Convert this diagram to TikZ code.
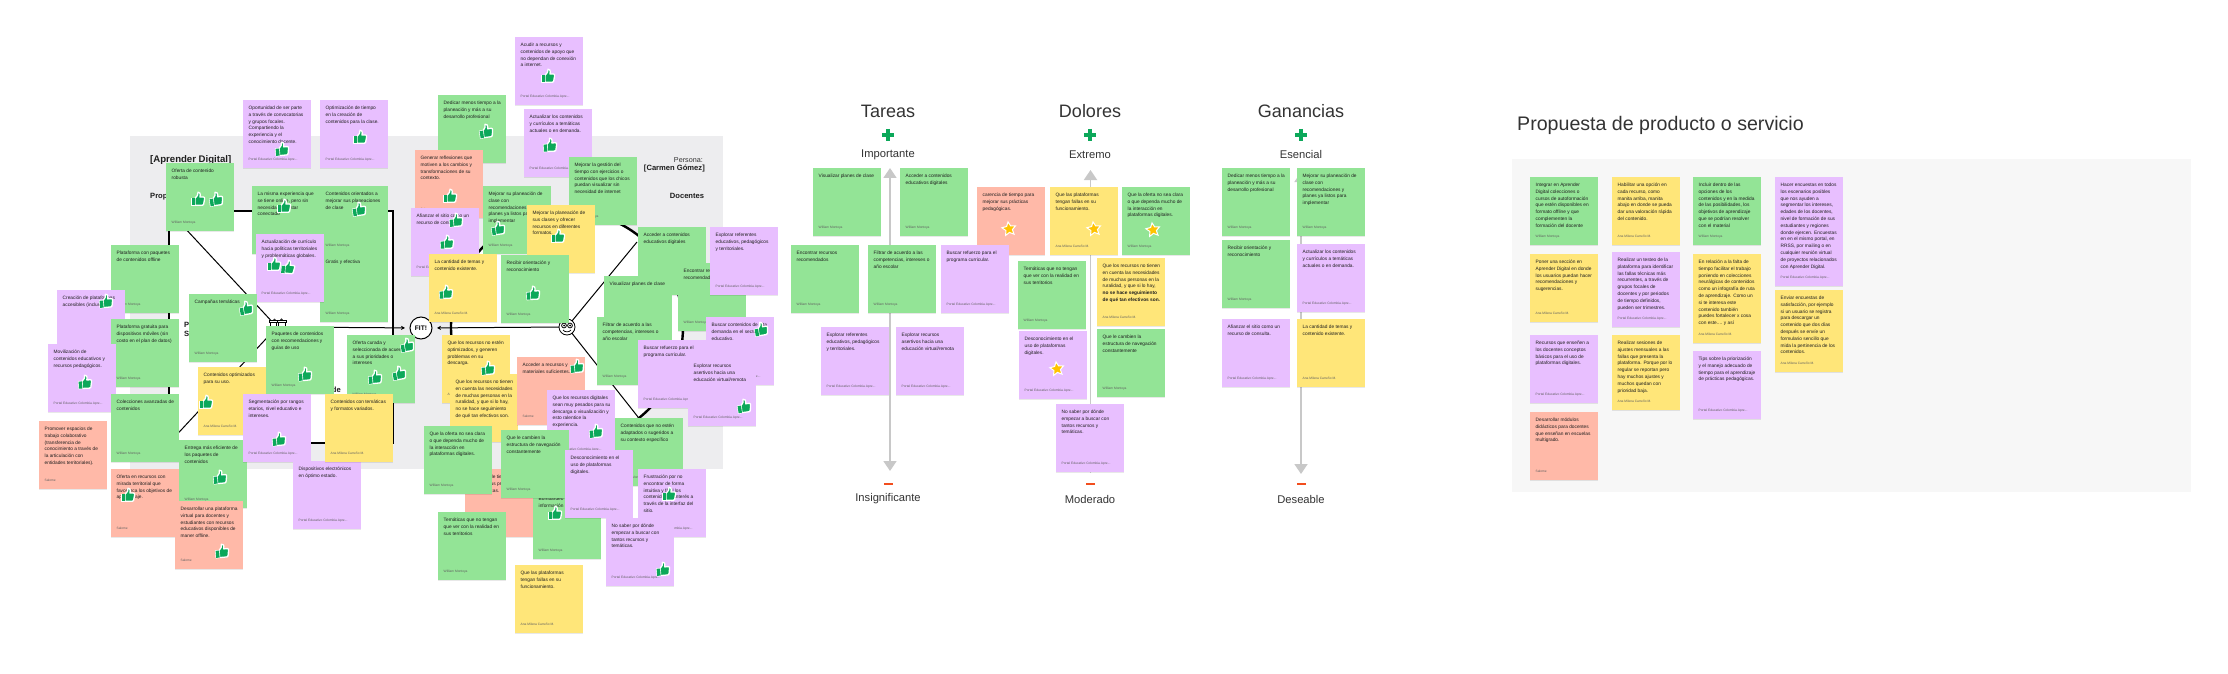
\documentclass[tikz,border=0pt]{standalone}
\usepackage{fontspec}
\setmainfont{Liberation Sans}
\usetikzlibrary{arrows.meta,shadows,shapes.geometric}
\definecolor{ng}{HTML}{93E496}
\definecolor{np}{HTML}{E8BFFF}
\definecolor{ny}{HTML}{FFE679}
\definecolor{nr}{HTML}{FFB9A8}
\definecolor{thumbc}{HTML}{0CA85A}
\definecolor{panel}{HTML}{EDEDEF}
\definecolor{panellight}{HTML}{F7F7F7}
\definecolor{arrowg}{HTML}{C8C8C8}
\definecolor{minusc}{HTML}{F24E1E}
\definecolor{ink}{HTML}{1E1E1E}
\definecolor{head}{HTML}{333333}
\definecolor{starc}{HTML}{FFC300}
\newcounter{ntc}
\newcounter{mkc}
\tikzset{
 notebox/.style={draw=none,minimum width=68pt,inner sep=0pt,outer sep=0pt,
   drop shadow={shadow xshift=0pt,shadow yshift=-0.8pt,opacity=.09,fill=black}},
 notetext/.style={anchor=north west,inner sep=0pt,outer sep=0pt,align=left,text=ink,
   font=\fontsize{4.8}{6.8}\selectfont},
 noteauth/.style={anchor=west,inner sep=0pt,outer sep=0pt,text=ink!70,
   font=\fontsize{3.25}{4}\selectfont},
 thick line/.style={line width=2.4pt,black},
 thin line/.style={line width=1pt,black},
 thin arrow/.style={line width=1pt,black,-{Stealth[length=4pt,width=4pt]},shorten >=4.5pt},
 grayarrow/.style={line width=1.8pt,arrowg,{Triangle[width=13pt,length=10pt]}-{Triangle[width=13pt,length=10pt]}},
 plusmark/.style={line width=3.4pt,thumbc},
 minusmark/.style={line width=1.8pt,minusc},
 headline/.style={text=head,font=\fontsize{18}{20}\selectfont,inner sep=0pt},
 subhead/.style={text=head,font=\fontsize{11.2}{13}\selectfont,inner sep=0pt},
 canvaslabel/.style={text=ink,font=\fontsize{7.6}{9.2}\selectfont\bfseries,inner sep=0pt,align=left},
 starmark/.style={star,star points=5,star point ratio=2.1,minimum size=14.5pt,inner sep=0pt,
   fill=starc,draw=white,line width=1pt,rotate=8},
 fitnode/.style={circle,draw=black,line width=1pt,fill=white,minimum size=22pt,inner sep=0pt,
   font=\fontsize{6.6}{8}\selectfont\bfseries}
}
% \nt{x}{y}{h}{colour}{text}{author}
\newcommand{\nt}[6]{%
 \stepcounter{ntc}\edef\nn{n\arabic{ntc}}%
 \node[notebox,fill=#4,minimum height=#3pt,anchor=north west] (\nn) at (#1,#2) {};%
 \node[notetext] (\nn t) at ([xshift=5.7pt,yshift=-6pt]\nn.north west) {#5};%
 \node[noteauth] (\nn a) at ([xshift=5.7pt,yshift=8.2pt]\nn.south west) {#6};%
}
\newcommand{\aW}{William Montoya}
\newcommand{\aA}{Ana Milena Carreño M.}
\newcommand{\aP}{Portal Educativo Colombia Apre...}
\newcommand{\aS}{Salome}
\newcommand{\thumbm}[3]{%
 \begin{scope}[shift={(#1,#2)},rotate=#3,scale=1.22]
  \path[fill=thumbc,draw=white,line width=1.3pt,line join=round]
   (-5.2,-0.6) -- (-3.3,-0.6) -- (-3.3,5.2) -- (-5.2,5.2) -- cycle;
  \path[fill=thumbc,draw=white,line width=1.3pt,line join=round]
   (-2.4,-0.6) -- (-0.4,-3) -- (0,-5.6) .. controls (1.6,-6) and (2.2,-4.4) .. (1.6,-1.6)
   -- (4.6,-1.6) .. controls (5.4,-1.6) and (5.6,-0.8) .. (5.4,0) -- (4.6,4.4) .. controls (4.5,5) and (4.2,5.2) .. (3.6,5.2)
   -- (-2.4,5.2) -- cycle;
  \path[fill=thumbc]
   (-5.2,-0.6) -- (-2.4,-0.6) -- (-2.4,5.2) -- (-5.2,5.2) -- cycle;
 \end{scope}%
}
\newcommand{\starm}[2]{\stepcounter{mkc}\node[starmark] (s\arabic{mkc}) at (#1,#2) {};}
\begin{document}
\begin{tikzpicture}[x=1pt,y=-1pt]
\useasboundingbox (0,0) rectangle (2228,674);
\fill[white] (0,0) rectangle (2228,674);

% ---------- left canvas ----------
\fill[panel] (130,136) rectangle (723,469);
\coordinate (tl) at (169,211); \coordinate (tr) at (393,211);
\coordinate (br) at (393,443); \coordinate (bl) at (169,443);
\draw[thick line,fill=white] (tl) -- (tr) -- (br) -- (bl) -- cycle;
\coordinate (cc) at (567,327);
\draw[thick line,fill=white] (cc) circle[radius=116];
\coordinate (gc) at (277,327);
\coordinate (cu) at (637,242); \coordinate (cd) at (638,417);
\draw[thin line] (tl) -- (gc);
\draw[thin line] (bl) -- (gc);
\draw[thin line] (cc) -- (cu);
\draw[thin line] (cc) -- (cd);
\node[fitnode] (fit) at (421,328) {FIT!};
\draw[thin arrow] (gc) -- (fit);
\draw[thin arrow] (cc) -- (fit);
% gifts
\node[inner sep=0pt,minimum width=16pt,minimum height=8pt] (gift) at (277,323.5) {};
\draw[line width=.7pt,fill=white] (270,322) rectangle (276.5,327.5);
\draw[line width=.7pt,fill=white] (278,322) rectangle (285,327.5);
\draw[line width=.7pt,fill=white] (269,320.5) rectangle (277,322.5);
\draw[line width=.7pt,fill=white] (277.5,320.5) rectangle (286,322.5);
\draw[line width=.6pt] (273,320.5) -- (274.5,319) -- (276,320.5);
\draw[line width=.6pt] (280,320.5) -- (281.5,318.8) -- (283,320.5);
% face
\node[circle,draw=black,line width=.8pt,fill=white,minimum size=16pt,inner sep=0pt] (face) at (567,327) {};
\draw[line width=.8pt] (564,325.5) circle[radius=2.4];
\draw[line width=.8pt] (570,325.5) circle[radius=2.4];
\fill (564,325.5) circle[radius=1]; \fill (570,325.5) circle[radius=1];
\draw[line width=.7pt] (563,330) .. controls (565,332.5) and (569,332.5) .. (571,330);

\node[canvaslabel,anchor=west,font=\fontsize{9.6}{11}\selectfont\bfseries] (titleA) at (150,160) {[Aprender Digital]};
\node[canvaslabel,anchor=west] (propv) at (150,196.5) {Propuesta de valor};
\node[canvaslabel,anchor=north west] (prods) at (184,322) {Productos y\\Servicios};
\node[canvaslabel,anchor=east] (alev) at (341,389.5) {Aliviadores de};
\node[anchor=east,inner sep=0pt,text=head,font=\fontsize{7.2}{9}\selectfont] (pers) at (703,160.5) {Persona:};
\node[canvaslabel,anchor=east] (persn) at (705,168.5) {[Carmen Gómez]};
\node[canvaslabel] (doc) at (687,196) {Docentes};

\nt{243}{100}{68}{np}{Oportunidad de ser parte\\a través de convocatorias\\y grupos focales.\\Compartiendo la\\experiencia y el\\conocimiento docente.}{\aP}
\nt{320}{100}{68}{np}{Optimización de tiempo\\en la creación de\\contenidos para la clase.}{\aP}
\nt{166}{163}{68}{ng}{Oferta de contenido\\robusta}{\aW}
\nt{252}{186}{68}{ng}{La misma experiencia que\\se tiene online, pero sin\\necesidad de estar\\conectado}{\aW}
\nt{320}{186}{68}{ng}{Contenidos orientados a\\mejorar sus planeaciones\\de clase}{\aW}
\nt{320}{254}{68}{ng}{Gratis y efectiva}{\aW}
\nt{256}{234}{68}{np}{Actualización de currículo\\hacia políticas territoriales\\y problemáticas globales.}{\aP}
\nt{111}{245}{68}{ng}{Plataforma con paquetes\\de contenidos offline}{\aW}
\nt{57}{290}{68}{np}{Creación de plataformas\\accesibles (inclusión)}{\aP}
\nt{111}{319}{68}{ng}{Plataforma gratuita para\\dispositivos móviles (sin\\costo en el plan de datos)}{\aW}
\nt{48}{344}{68}{np}{Movilización de\\contenidos educativos y\\recursos pedagógicos.}{\aP}
\nt{111}{394}{68}{ng}{Colecciones avanzadas de\\contenidos}{\aW}
\nt{39}{421}{68}{nr}{Promover espacios de\\trabajo colaborativo\\(transferencia de\\conocimiento a través de\\la articulación con\\entidades territoriales).}{\aS}
\nt{111}{469}{68}{nr}{Oferta en recursos con\\mirada territorial que\\favorezca los objetivos de\\aprendizaje.}{\aS}
\nt{179}{440}{68}{ng}{Entrega más eficiente de\\los paquetes de\\contenidos}{\aW}
\nt{175}{501}{68}{nr}{Desarrollar una plataforma\\virtual para docentes y\\estudiantes con recursos\\educativos disponibles de\\maner offline.}{\aS}
\nt{189}{294}{68}{ng}{Campañas temáticas}{\aW}
\nt{198}{367}{68}{ny}{Contenidos optimizados\\para su uso.}{\aA}
\nt{266}{326}{68}{ng}{Paquetes de contenidos\\con recomendaciones y\\guías de uso}{\aW}
\nt{243}{394}{68}{np}{Segmentación por rangos\\etarios, nivel educativo e\\intereses.}{\aP}
\nt{347}{335}{68}{ng}{Oferta curada y\\seleccionada de acuerdo\\a sus prioridades o\\intereses}{\aW}
\nt{293}{461}{68}{np}{Dispositivos electrónicos\\en óptimo estado.}{\aP}
\nt{325}{394}{68}{ny}{Contenidos con temáticas\\y formatos variados.}{\aA}

\nt{515}{37}{68}{np}{Acudir a recursos y\\contenidos de apoyo que\\no dependan de conexión\\a internet.}{\aP}
\nt{438}{95}{68}{ng}{Dedicar menos tiempo a la\\planeación y más a su\\desarrollo profesional}{\aW}
\nt{524}{109}{68}{np}{Actualizar los contenidos\\y currículos a temáticas\\actuales o en demanda.}{\aP}
\nt{415}{150}{68}{nr}{Generar reflexiones que\\motiven a los cambios y\\transformaciones de su\\contexto.}{\aS}
\nt{569}{157}{68}{ng}{Mejorar la gestión del\\tiempo con ejercicios o\\contenidos que los chicos\\puedan visualizar sin\\necesidad de internet}{\aW}
\nt{483}{186}{68}{ng}{Mejorar su planeación de\\clase con\\recomendaciones y\\planes ya listos para\\implementar}{\aW}
\nt{527}{205}{68}{ny}{Mejorar la planeación de\\sus clases y ofrecer\\recursos en diferentes\\formatos.}{\aA}
\nt{411}{208}{68}{np}{Afianzar el sitio como un\\recurso de consulta.}{\aP}
\nt{429}{254}{68}{ny}{La cantidad de temas y\\contenido existente.}{\aA}
\nt{501}{255}{68}{ng}{Recibir orientación y\\reconocimiento}{\aW}
\nt{638}{227}{68}{ng}{Acceder a contenidos\\educativos digitales}{\aW}
\nt{678}{263}{68}{ng}{Encontrar recursos\\recomendados}{\aW}
\nt{710}{227}{68}{np}{Explorar referentes\\educativos, pedagógicos\\y territoriales.}{\aP}
\nt{604}{276}{68}{ng}{Visualizar planes de clase}{\aW}
\nt{597}{317}{68}{ng}{Filtrar de acuerdo a las\\competencias, intereses o\\año escolar}{\aW}
\nt{706}{317}{68}{np}{Buscar contenidos de alta\\demanda en el sector\\educativo.}{\aP}
\nt{638}{340}{68}{np}{Buscar refuerzo para el\\programa curricular.}{\aP}
\nt{688}{358}{68}{np}{Explorar recursos\\asertivos hacia una\\educación virtual/remota}{\aP}
\nt{442}{335}{68}{ny}{Que los recursos no estén\\optimizados, y generen\\problemas en su\\descarga.}{\aA}
\nt{450}{374}{68}{ny}{Que los recursos no tienen\\en cuenta las necesidades\\de muchas personas en la\\ruralidad, y que si lo hay,\\no se hace seguimiento\\de qué tan efectivos son.}{\aA}
\nt{517}{357}{68}{nr}{Acceder a recursos y\\materiales suficientes.}{\aS}
\nt{547}{390}{68}{np}{Que los recursos digitales\\sean muy pesados para su\\descarga o visualización y\\esto ralentice la\\experiencia.}{\aP}
\nt{615}{418}{68}{ng}{Contenidos que no estén\\adaptados o sugeridos a\\su contexto específico}{\aW}
\nt{465}{469}{68}{nr}{carencia de tiempo para\\mejorar sus prácticas\\pedagógicas.}{\aS}
\nt{533}{491}{68}{ng}{Bombardeo de\\información}{\aW}
\nt{424}{426}{68}{ng}{Que la oferta no sea clara\\o que dependa mucho de\\la interacción en\\plataformas digitales.}{\aW}
\nt{501}{430}{68}{ng}{Que le cambien la\\estructura de navegación\\constantemente}{\aW}
\nt{565}{450}{68}{np}{Desconocimiento en el\\uso de plataformas\\digitales.}{\aP}
\nt{638}{469}{68}{np}{Frustración por no\\encontrar de forma\\intuitiva y fácil los\\contenidos de interés a\\través de la interfaz del\\sitio.}{\aP}
\nt{438}{512}{68}{ng}{Temáticas que no tengan\\que ver con la realidad en\\sus territorios}{\aW}
\nt{606}{518}{68}{np}{No saber por dónde\\empezar a buscar con\\tantos recursos y\\temáticas.}{\aP}
\nt{515}{565}{68}{ny}{Que las plataformas\\tengan fallas en su\\funcionamiento.}{\aA}

% thumbs left
\thumbm{282}{149}{5}\thumbm{360}{137}{0}\thumbm{198}{199}{0}\thumbm{216}{199}{8}
\thumbm{284}{206}{0}\thumbm{359}{209}{8}\thumbm{274}{264}{0}\thumbm{288}{267}{-5}
\thumbm{106}{301}{5}\thumbm{246}{308}{10}\thumbm{85}{382}{3}\thumbm{305}{374}{5}
\thumbm{128}{495}{0}\thumbm{220}{477}{5}\thumbm{222}{551}{5}\thumbm{206}{402}{0}
\thumbm{279}{439}{5}\thumbm{407}{345}{10}\thumbm{375}{377}{5}\thumbm{399}{373}{10}
\thumbm{548}{76}{0}\thumbm{486}{131}{8}\thumbm{550}{145}{3}\thumbm{450}{196}{0}
\thumbm{498}{228}{8}\thumbm{558}{236}{0}\thumbm{456}{220}{5}\thumbm{447}{242}{3}
\thumbm{446}{292}{3}\thumbm{533}{293}{3}\thumbm{761}{329}{10}\thumbm{488}{368}{5}
\thumbm{577}{366}{5}\thumbm{596}{431}{5}\thumbm{744}{406}{8}\thumbm{669}{494}{0}
\thumbm{555}{513}{0}\thumbm{663}{569}{5}

% ---------- Tareas ----------
\node[headline] (hT) at (888,111) {Tareas};
\draw[plusmark] (882,135) -- (894,135); \draw[plusmark] (888,129) -- (888,141);
\node[subhead] (sT) at (888,155) {Importante};
\coordinate (tT) at (890,168); \coordinate (tB) at (890,471);
\draw[grayarrow] (tT) -- (tB);
\draw[minusmark] (884,484) -- (893,484);
\node[subhead] (bT) at (888,499) {Insignificante};
\nt{813}{168}{68}{ng}{Visualizar planes de clase}{\aW}
\nt{900}{168}{68}{ng}{Acceder a contenidos\\educativos digitales}{\aW}
\nt{791}{245}{68}{ng}{Encontrar recursos\\recomendados}{\aW}
\nt{868}{245}{68}{ng}{Filtrar de acuerdo a las\\competencias, intereses o\\año escolar}{\aW}
\nt{821}{327}{68}{np}{Explorar referentes\\educativos, pedagógicos\\y territoriales.}{\aP}
\nt{896}{327}{68}{np}{Explorar recursos\\asertivos hacia una\\educación virtual/remota}{\aP}

% ---------- Dolores ----------
\node[headline] (hD) at (1090,111) {Dolores};
\draw[plusmark] (1084,135) -- (1096,135); \draw[plusmark] (1090,129) -- (1090,141);
\node[subhead] (sD) at (1090,155) {Extremo};
\coordinate (dT) at (1090.5,170); \coordinate (dB) at (1090.5,473);
\draw[grayarrow] (dT) -- (dB);
\draw[minusmark] (1086,484) -- (1095,484);
\node[subhead] (bD) at (1090,499) {Moderado};
\nt{977}{187}{68}{nr}{carencia de tiempo para\\mejorar sus prácticas\\pedagógicas.}{}
\nt{941}{245}{68}{np}{Buscar refuerzo para el\\programa curricular.}{\aP}
\nt{1050}{187}{68}{ny}{Que las plataformas\\tengan fallas en su\\funcionamiento.}{\aA}
\nt{1122}{187}{68}{ng}{Que la oferta no sea clara\\o que dependa mucho de\\la interacción en\\plataformas digitales.}{\aW}
\nt{1018}{261}{68}{ng}{Temáticas que no tengan\\que ver con la realidad en\\sus territorios}{\aW}
\nt{1097}{258}{68}{ny}{Que los recursos no tienen\\en cuenta las necesidades\\de muchas personas en la\\ruralidad, y que si lo hay,\\\textbf{no se hace seguimiento}\\\textbf{de qué tan efectivos son.}}{\aA}
\nt{1019}{331}{68}{np}{Desconocimiento en el\\uso de plataformas\\digitales.}{\aP}
\nt{1097}{329}{68}{ng}{Que le cambien la\\estructura de navegación\\constantemente}{\aW}
\nt{1056}{404}{68}{np}{No saber por dónde\\empezar a buscar con\\tantos recursos y\\temáticas.}{\aP}
\starm{1009}{229}\starm{1094}{229}\starm{1153}{230}\starm{1057}{369}

% ---------- Ganancias ----------
\node[headline] (hG) at (1301,111) {Ganancias};
\draw[plusmark] (1295,135) -- (1307,135); \draw[plusmark] (1301,129) -- (1301,141);
\node[subhead] (sG) at (1301,154.5) {Esencial};
\coordinate (gT) at (1301,172); \coordinate (gB) at (1301,474);
\draw[grayarrow] (gT) -- (gB);
\draw[minusmark] (1297,484) -- (1306,484);
\node[subhead] (bG) at (1301,499) {Deseable};
\nt{1222}{168}{68}{ng}{Dedicar menos tiempo a la\\planeación y más a su\\desarrollo profesional}{\aW}
\nt{1297}{168}{68}{ng}{Mejorar su planeación de\\clase con\\recomendaciones y\\planes ya listos para\\implementar}{\aW}
\nt{1222}{240}{68}{ng}{Recibir orientación y\\reconocimiento}{\aW}
\nt{1297}{244}{68}{np}{Actualizar los contenidos\\y currículos a temáticas\\actuales o en demanda.}{\aP}
\nt{1222}{319}{68}{np}{Afianzar el sitio como un\\recurso de consulta.}{\aP}
\nt{1297}{319}{68}{ny}{La cantidad de temas y\\contenido existente.}{\aA}

% ---------- Propuesta ----------
\node[anchor=west,text=head,font=\fontsize{19.6}{22}\selectfont,inner sep=0pt] (hP) at (1517,125) {Propuesta de producto o servicio};
\fill[panellight] (1512,159) rectangle (2191,492);
\nt{1530}{177}{68}{ng}{Integrar en Aprender\\Digital colecciones o\\cursos de autoformación\\que estén disponibles en\\formato offline y que\\complementen la\\formación del docente}{\aW}
\nt{1530}{254}{68}{ny}{Poner una sección en\\Aprender Digital en donde\\los usuarios puedan hacer\\recomendaciones y\\sugerencias.}{\aA}
\nt{1530}{335}{68}{np}{Recursos que enseñen a\\los docentes conceptos\\básicos para el uso de\\plataformas digitales.}{\aP}
\nt{1530}{412}{68}{nr}{Desarrollar módulos\\didácticos para docentes\\que enseñan en escuelas\\multigrado.}{\aS}
\nt{1612}{177}{68}{ny}{Habilitar una opción en\\cada recurso, como\\manita arriba, manita\\abajo en donde se pueda\\dar una valoración rápida\\del contenido.}{\aA}
\nt{1612}{252}{75}{np}{Realizar un testeo de la\\plataforma para identificar\\las fallas técnicas más\\recurrentes, a través de\\grupos focales de\\docentes y por periodos\\de tiempo definidos,\\pueden ser trimestres.}{\aP}
\nt{1612}{335}{75}{ny}{Realizar sesiones de\\ajustes mensuales a las\\fallas que presenta la\\plataforma. Porque por lo\\regular se reportan pero\\hay muchos ajustes y\\muchos quedan con\\prioridad baja.}{\aA}
\nt{1693}{177}{68}{ng}{Incluir dentro de las\\opciones de los\\contenidos y en la medida\\de las posibilidades, los\\objetivos de aprendizaje\\que se podrían resolver\\con el material}{\aW}
\nt{1693}{254}{89}{ny}{En relación a la falta de\\tiempo facilitar el trabajo\\poniendo en colecciones\\neurálgicas de contenidos\\como un infografía de ruta\\de aprendizaje. Como un\\si te interesa este\\contenido también\\puedes fortalecer x cosa\\con este.... y así}{\aA}
\nt{1693}{351}{68}{np}{Tips sobre la priorización\\y el manejo adecuado de\\tiempo para el aprendizaje\\de prácticas pedagógicas.}{\aP}
\nt{1775}{177}{109}{np}{Hacer encuestas en todos\\los escenarios posibles\\que nos ayuden a\\segmentar los intereses,\\edades de los docentes,\\nivel de formación de sus\\estudiantes y regiones\\donde ejercen. Encuestas\\en en el mismo portal, en\\RRSS, por mailing o en\\cualquier reunión virtual\\de proyectos relacionados\\con Aprender Digital.}{\aP}
\nt{1775}{290}{82}{ny}{Enviar encuestas de\\satisfacción, por ejemplo\\si un usuario se registra\\para descargar un\\contenido que dos días\\después se envíe un\\formulario sencillo que\\mida la pertinencia de los\\contenidos.}{\aA}
\end{tikzpicture}
\end{document}
